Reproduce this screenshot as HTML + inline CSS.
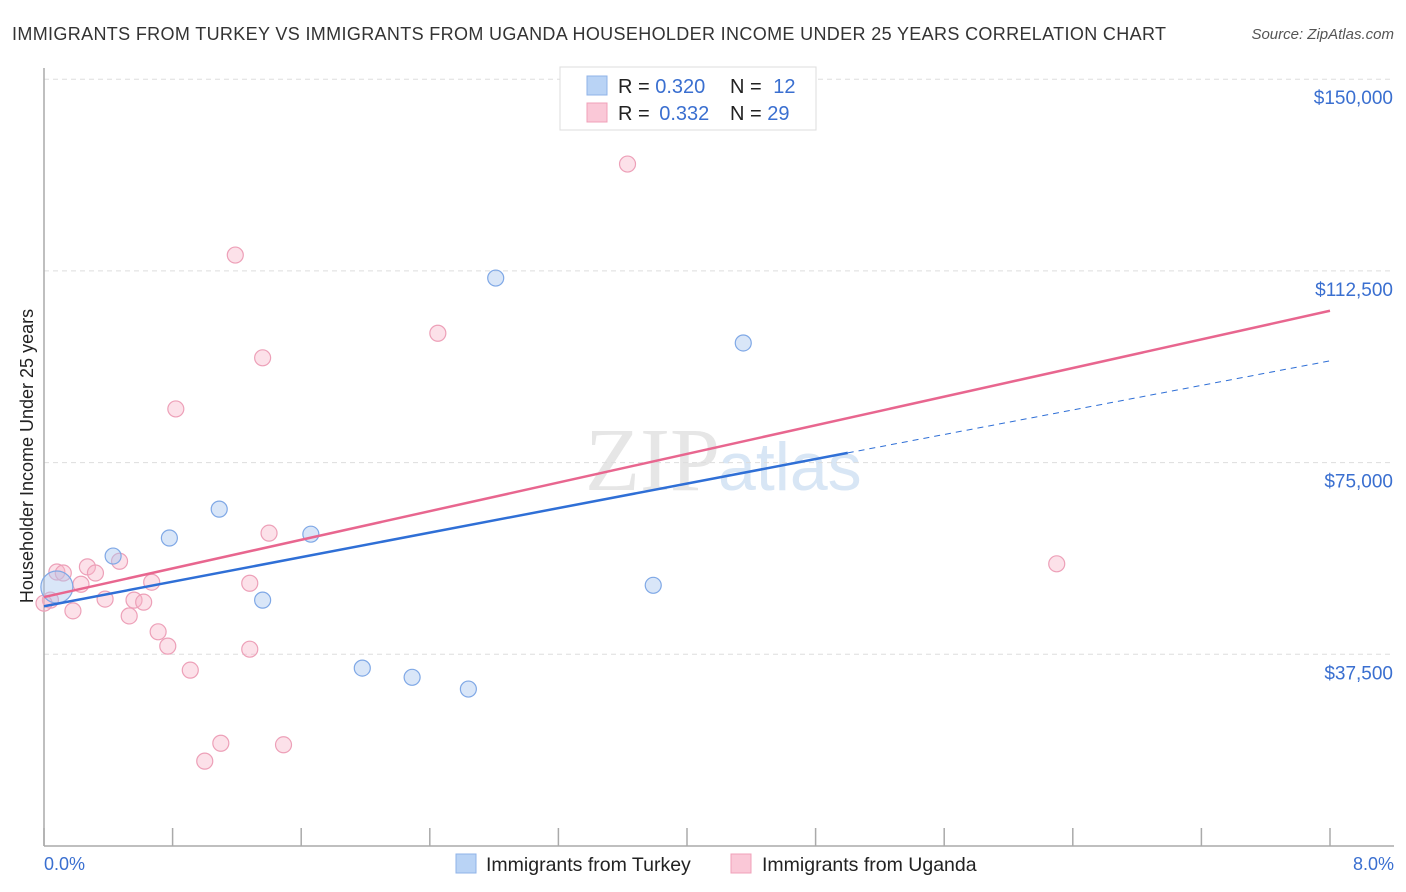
<!DOCTYPE html>
<html><head><meta charset="utf-8"><style>
body{margin:0;background:#fff;font-family:"Liberation Sans",sans-serif;}
svg{display:block}
</style></head><body>
<svg id="chart" width="1406" height="892" xmlns="http://www.w3.org/2000/svg">
<text x="12" y="40" font-size="18" fill="#333" textLength="1154" lengthAdjust="spacing">IMMIGRANTS FROM TURKEY VS IMMIGRANTS FROM UGANDA HOUSEHOLDER INCOME UNDER 25 YEARS CORRELATION CHART</text>
<text x="1394" y="39" font-size="15" fill="#555" font-style="italic" text-anchor="end">Source: ZipAtlas.com</text>
<text x="720" y="490" font-size="90" fill="#e6e6e6" text-anchor="end" font-family="Liberation Serif,serif">ZIP</text>
<text x="718" y="490" font-size="68" fill="#d8e6f5">atlas</text>
<g id="grid"></g>
<line x1="44" y1="68" x2="44" y2="846" stroke="#aaa" stroke-width="1.5"/>
<line x1="44" y1="846" x2="1394" y2="846" stroke="#aaa" stroke-width="1.5"/>
<text x="33" y="456" font-size="18" fill="#222" text-anchor="middle" transform="rotate(-90 33 456)">Householder Income Under 25 years</text>
<text x="44" y="870" font-size="18" fill="#3a6fd0">0.0%</text>
<text x="1394" y="870" font-size="18" fill="#3a6fd0" text-anchor="end">8.0%</text>
<g id="points"></g>
<g id="lines"></g>
<g>
<rect x="560" y="67" width="256" height="63" fill="#fff" stroke="#ddd"/>
<rect x="587" y="76" width="20" height="19" fill="#b9d3f5" stroke="#8fb3e8"/>
<rect x="587" y="103" width="20" height="19" fill="#fac8d7" stroke="#f0a0b8"/>
<text x="618" y="93" font-size="20" fill="#222">R = <tspan fill="#3a6fd0">0.320</tspan></text>
<text x="730" y="93" font-size="20" fill="#222">N = <tspan fill="#3a6fd0" dx="6">12</tspan></text>
<text x="618" y="120" font-size="20" fill="#222">R = <tspan fill="#3a6fd0" dx="4">0.332</tspan></text>
<text x="730" y="120" font-size="20" fill="#222">N = <tspan fill="#3a6fd0">29</tspan></text>
</g>
<g>
<rect x="456" y="854" width="20" height="19" fill="#b9d3f5" stroke="#8fb3e8"/>
<text x="486" y="871" font-size="19.5" fill="#222">Immigrants from Turkey</text>
<rect x="731" y="854" width="20" height="19" fill="#fac8d7" stroke="#f0a0b8"/>
<text x="762" y="871" font-size="19.5" fill="#222">Immigrants from Uganda</text>
</g>
</svg>
<script>
const yTicks=[37500,75000,112500,150000];
const yTickLabels=["$37,500","$75,000","$112,500","$150,000"];
const xTicks=[0,0.8,1.6,2.4,3.2,4.0,4.8,5.6,6.4,7.2,8.0];
const turkeyX=[0.08,0.43,0.78,1.09,1.36,1.66,1.98,2.29,2.64,2.81,3.79,4.35];
const turkeyY=[50660,56720,60250,65900,48100,61000,34800,33000,30700,111100,51000,98400];
const ugandaX=[0.08,0.12,0.27,0.32,0.23,0.47,0.38,0.18,0.04,0.56,0.62,0.67,0.53,0.71,0.77,0.91,1.10,1.00,1.49,1.28,1.28,1.40,0.82,1.19,1.36,2.45,3.63,6.30,0.0];
const ugandaY=[53600,53400,54600,53400,51200,55700,48300,46000,48100,48100,47700,51600,45000,41900,39100,34400,20100,16600,19800,51400,38500,61200,85500,115600,95500,100300,133400,55200,47500];
const turkeyTrend=[46900,94900];const turkeySolidEnd=5.0;
const ugandaTrend=[48700,104700];
const NS="http://www.w3.org/2000/svg";
const xs=v=>44+v/8*1286;
const ys=v=>846-v/37500*191.7;
function mk(tag,attrs,parent){const e=document.createElementNS(NS,tag);for(const k in attrs)e.setAttribute(k,attrs[k]);parent.appendChild(e);return e;}
const grid=document.getElementById('grid');
yTicks.forEach((t,i)=>{
 const l=mk('line',{x1:44,x2:1394,y1:ys(t),y2:ys(t),stroke:'#ddd','stroke-dasharray':'5,4'},grid);
 
 
 const tx=mk('text',{x:1393,y:ys(t)+25,'font-size':19,fill:'#3a6fd0','text-anchor':'end'},grid);
 tx.textContent=yTickLabels[i];
 
 
});
xTicks.forEach(t=>{
 const l=mk('line',{x1:xs(t),x2:xs(t),y1:828,y2:846,stroke:'#aaa','stroke-width':1.5},grid);
 
 
});
const pts=document.getElementById('points');
ugandaX.forEach((x,i)=>{
 const c=mk('circle',{cx:xs(x),cy:ys(ugandaY[i]),r:8,fill:'rgba(248,180,200,0.4)',stroke:'#eda0b8','stroke-width':1.2},pts);
 
 
});
turkeyX.forEach((x,i)=>{
 const c=mk('circle',{cx:xs(x),cy:ys(turkeyY[i]),r:i===0?16:8,fill:'rgba(170,200,240,0.45)',stroke:'#7fa8e6','stroke-width':1.2},pts);
 
 
});
const lines=document.getElementById('lines');
const tf=x=>turkeyTrend[0]+(turkeyTrend[1]-turkeyTrend[0])*x/8;
const uf=x=>ugandaTrend[0]+(ugandaTrend[1]-ugandaTrend[0])*x/8;
let l1=mk('line',{x1:xs(0),y1:ys(uf(0)),x2:xs(8),y2:ys(uf(8)),stroke:'#e8668f','stroke-width':2.5},lines);


let l2=mk('line',{x1:xs(0),y1:ys(tf(0)),x2:xs(turkeySolidEnd),y2:ys(tf(turkeySolidEnd)),stroke:'#2f6fd6','stroke-width':2.5},lines);


let l3=mk('line',{x1:xs(turkeySolidEnd),y1:ys(tf(turkeySolidEnd)),x2:xs(8),y2:ys(tf(8)),stroke:'#2f6fd6','stroke-width':1,'stroke-dasharray':'6,5'},lines);


</script>
</body></html>
